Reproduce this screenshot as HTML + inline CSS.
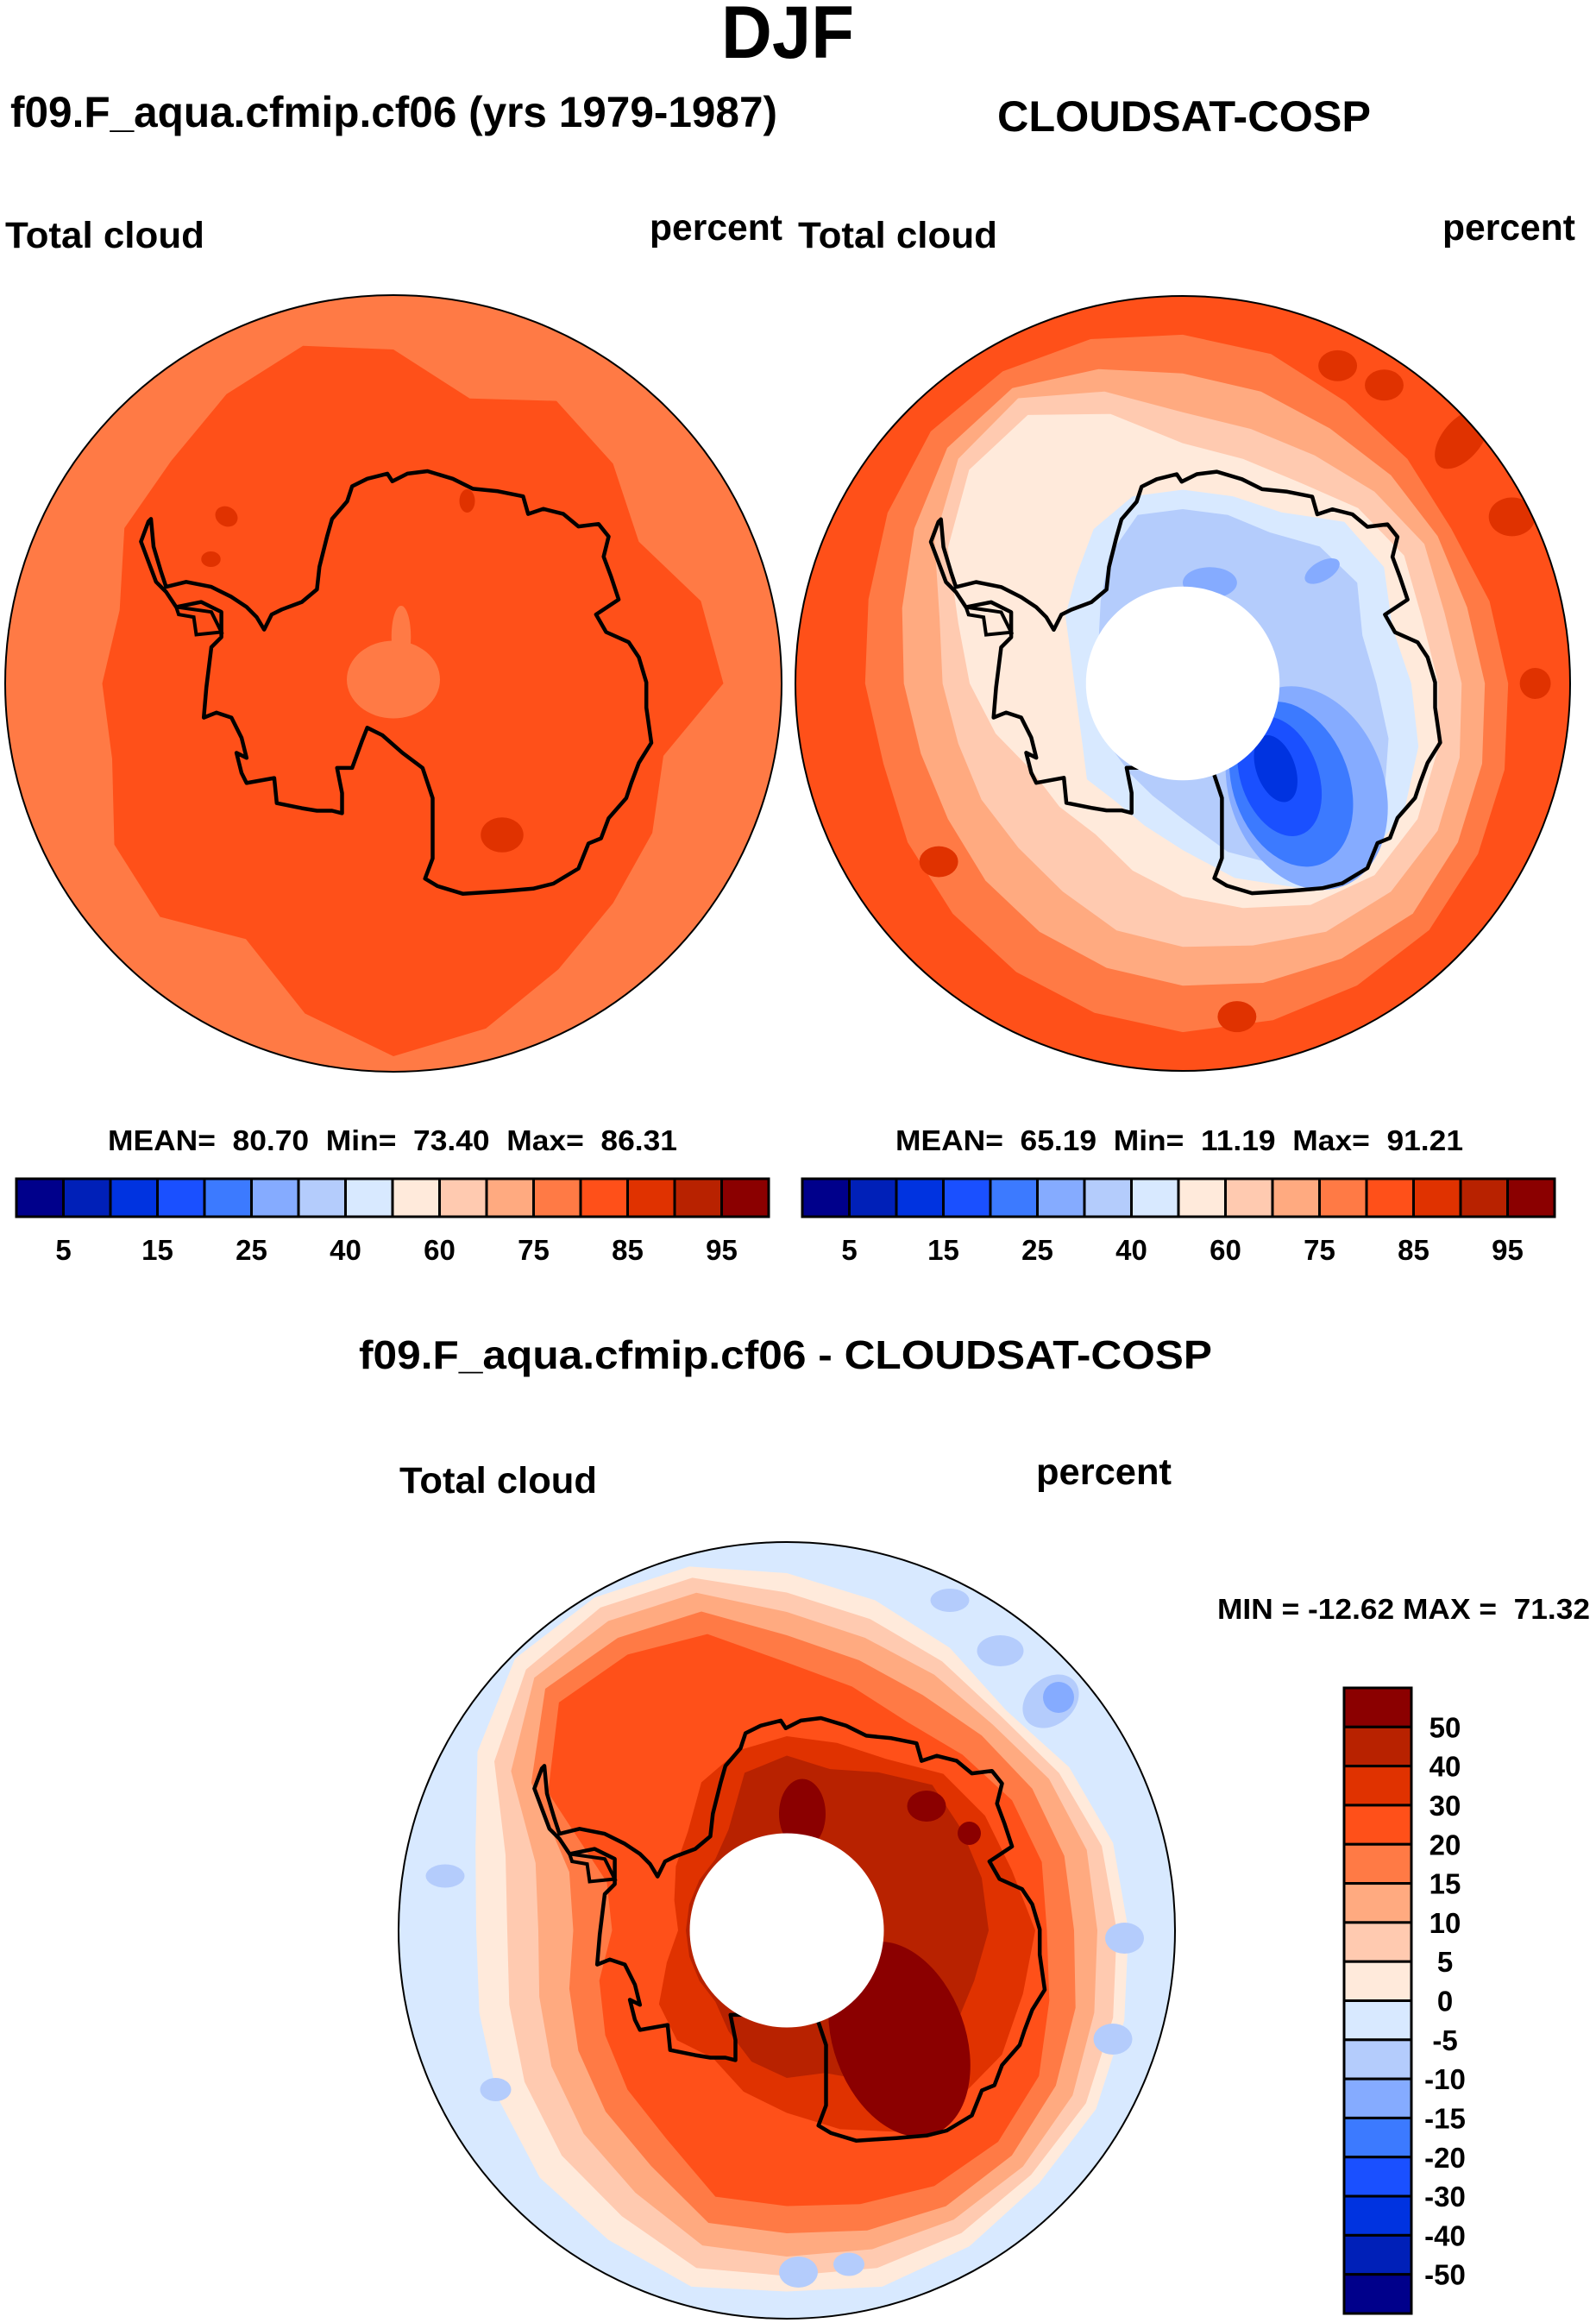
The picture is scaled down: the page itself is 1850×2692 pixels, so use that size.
<!DOCTYPE html>
<html><head><meta charset="utf-8"><title>DJF Total cloud</title>
<style>
html,body{margin:0;padding:0;background:#fff;}
svg{display:block;}
text{font-family:"Liberation Sans",Arial,sans-serif;font-weight:bold;fill:#000;}
.pre{white-space:pre;}
</style></head>
<body>
<svg id="fig" xmlns="http://www.w3.org/2000/svg" width="1850" height="2692" viewBox="0 0 1850 2692">
<text x="913" y="67" font-size="86" text-anchor="middle" textLength="154" lengthAdjust="spacingAndGlyphs">DJF</text>
<text x="12" y="147" font-size="50" textLength="889" lengthAdjust="spacingAndGlyphs">f09.F_aqua.cfmip.cf06 (yrs 1979-1987)</text>
<text x="1156" y="152" font-size="50" textLength="433" lengthAdjust="spacingAndGlyphs">CLOUDSAT-COSP</text>
<text x="6" y="287" font-size="43" textLength="231" lengthAdjust="spacingAndGlyphs">Total cloud</text>
<text x="753" y="278" font-size="43" textLength="154" lengthAdjust="spacingAndGlyphs">percent</text>
<text x="925" y="287" font-size="43" textLength="231" lengthAdjust="spacingAndGlyphs">Total cloud</text>
<text x="1672" y="278" font-size="43" textLength="154" lengthAdjust="spacingAndGlyphs">percent</text>
<text class="pre" x="125" y="1333" font-size="33" textLength="660" lengthAdjust="spacingAndGlyphs">MEAN=  80.70  Min=  73.40  Max=  86.31</text>
<text class="pre" x="1038" y="1333" font-size="33" textLength="658" lengthAdjust="spacingAndGlyphs">MEAN=  65.19  Min=  11.19  Max=  91.21</text>
<text x="416" y="1586" font-size="46" textLength="989" lengthAdjust="spacingAndGlyphs">f09.F_aqua.cfmip.cf06 - CLOUDSAT-COSP</text>
<text x="463" y="1730" font-size="43" textLength="229" lengthAdjust="spacingAndGlyphs">Total cloud</text>
<text x="1201" y="1720" font-size="43" textLength="157" lengthAdjust="spacingAndGlyphs">percent</text>
<text class="pre" x="1411" y="1876" font-size="33" textLength="432" lengthAdjust="spacingAndGlyphs">MIN = -12.62 MAX =  71.32</text>
<g id="maps"></g>
<g id="bars"></g>
</svg>
<script>
// ---- data ----
const palette = ["#00008b","#0020b8","#0033e0","#1a50ff","#3c7aff","#85abff","#b4ccfc","#d8e9ff","#ffeadb","#ffcab0","#ffaa80","#ff7a45","#ff5019","#e03200","#b82200","#8b0000"];
const absTickLabels = ["5","15","25","40","60","75","85","95"];
const diffTickLabels = ["50","40","30","20","15","10","5","0","-5","-10","-15","-20","-30","-40","-50"];
// radial contour extents (fraction of map radius) at 15° steps, clockwise from east
const modelLvl13 = [0.85,0.72,0.77,0.8,0.85,0.92,0.96,0.88,0.76,0.85,0.83,0.75,0.75,0.73,0.8,0.81,0.86,0.9,0.86,0.76,0.84,0.8,0.73,0.82];
const obsLvl12 = [0.84,0.86,0.88,0.9,0.9,0.9,0.9,0.88,0.86,0.84,0.82,0.8,0.82,0.84,0.88,0.92,0.93,0.92,0.9,0.88,0.84,0.82,0.8,0.82];
const obsLvl11 = [0.78,0.8,0.82,0.84,0.82,0.8,0.78,0.76,0.74,0.72,0.7,0.7,0.72,0.75,0.8,0.86,0.88,0.84,0.8,0.78,0.76,0.76,0.76,0.76];
const obsLvl10 = [0.72,0.74,0.76,0.76,0.74,0.7,0.68,0.66,0.62,0.6,0.6,0.6,0.62,0.65,0.74,0.82,0.85,0.78,0.7,0.68,0.68,0.7,0.72,0.7];
const obsLvl9 = [0.66,0.68,0.7,0.7,0.66,0.6,0.55,0.5,0.45,0.45,0.45,0.5,0.55,0.6,0.7,0.78,0.8,0.72,0.62,0.6,0.6,0.64,0.66,0.64];
const obsLvl8 = [0.59,0.63,0.66,0.66,0.61,0.52,0.43,0.38,0.35,0.35,0.3,0.28,0.28,0.3,0.35,0.39,0.46,0.5,0.5,0.5,0.51,0.59,0.6,0.56];
const obsLvl7 = [0.5,0.55,0.6,0.6,0.55,0.45,0.35,0.3,0.27,0.25,0.25,0.25,0.25,0.25,0.25,0.3,0.38,0.45,0.45,0.45,0.45,0.5,0.52,0.48];
const diffLvl9 = [0.88,0.9,0.92,0.92,0.94,0.95,0.93,0.95,0.92,0.9,0.86,0.82,0.8,0.83,0.92,0.99,0.99,0.97,0.92,0.88,0.84,0.8,0.84,0.87];
const diffLvl10 = [0.85,0.87,0.89,0.89,0.9,0.9,0.89,0.9,0.85,0.82,0.78,0.74,0.72,0.75,0.87,0.95,0.96,0.94,0.87,0.83,0.8,0.78,0.81,0.84];
const diffLvl11 = [0.8,0.82,0.85,0.86,0.86,0.85,0.84,0.84,0.78,0.74,0.7,0.66,0.64,0.67,0.82,0.92,0.92,0.9,0.82,0.78,0.76,0.75,0.78,0.8];
const diffLvl12 = [0.74,0.77,0.8,0.82,0.82,0.8,0.78,0.78,0.7,0.66,0.62,0.58,0.55,0.58,0.76,0.88,0.87,0.85,0.76,0.72,0.7,0.71,0.73,0.74];
const diffLvl13 = [0.67,0.7,0.75,0.77,0.76,0.73,0.71,0.71,0.62,0.58,0.54,0.5,0.45,0.48,0.71,0.83,0.82,0.79,0.69,0.65,0.62,0.64,0.67,0.68];
const diffLvl14 = [0.64,0.63,0.64,0.62,0.6,0.53,0.47,0.43,0.38,0.4,0.38,0.32,0.28,0.3,0.33,0.36,0.44,0.48,0.5,0.5,0.51,0.57,0.59,0.6];
const diffLvl15 = [0.52,0.5,0.5,0.5,0.45,0.38,0.38,0.35,0.3,0.26,0.26,0.26,0.26,0.26,0.26,0.26,0.3,0.42,0.45,0.43,0.47,0.53,0.52,0.52];
// local extrema cells: [level index, x, y, rx, ry, rotation] in map-relative units
const modelCells = [[11,0,-0.01,0.12,0.1,0],[11,0.02,-0.12,0.025,0.08,0],[13,0.28,0.39,0.055,0.045,0],[13,0.19,-0.47,0.02,0.03,0],[13,-0.43,-0.43,0.03,0.025,30],[13,-0.47,-0.32,0.025,0.02,0]];
const obsCells = [[13,0.4,-0.82,0.05,0.04,0],[13,0.72,-0.63,0.09,0.05,-50],[13,0.85,-0.43,0.06,0.05,0],[13,0.91,0,0.04,0.04,0],[13,-0.63,0.46,0.05,0.04,0],[13,0.14,0.86,0.05,0.04,0],[13,0.52,-0.77,0.05,0.04,0],
  [5,0.32,0.27,0.2,0.27,-20],[4,0.28,0.26,0.15,0.22,-20],[3,0.25,0.24,0.1,0.16,-20],[2,0.24,0.22,0.05,0.09,-20],[5,0.07,-0.26,0.07,0.04,0],[5,0.36,-0.29,0.05,0.025,-30]];
const diffCells = [[6,0.68,-0.59,0.08,0.06,-40],[5,0.7,-0.6,0.04,0.04,0],[6,0.42,-0.85,0.05,0.03,0],[6,0.87,0.02,0.05,0.04,0],[6,0.84,0.28,0.05,0.04,0],[6,-0.88,-0.14,0.05,0.03,0],[6,0.03,0.88,0.05,0.04,0],[6,0.55,-0.72,0.06,0.04,0],[6,-0.75,0.41,0.04,0.03,0],[6,0.16,0.86,0.04,0.03,0],
  [15,0.29,0.28,0.17,0.26,-20],[15,0.04,-0.3,0.06,0.09,0],[15,0.36,-0.32,0.05,0.04,0],[15,0.47,-0.25,0.03,0.03,0]];
// coastline trace (reference grid units, centre 782,792 radius 772)
const coast = [[300,465],[305,520],[320,570],[330,600],[370,590],[420,600],[460,620],[490,640],[510,660],[525,685],[540,655],[560,645],[600,630],[630,605],[635,560],[650,500],[660,465],[690,430],[700,400],[730,385],[770,375],[780,390],[810,375],[850,370],[900,385],[940,405],[990,410],[1040,420],[1050,455],[1080,445],[1120,455],[1150,480],[1190,475],[1210,500],[1200,540],[1215,580],[1230,625],[1185,655],[1205,690],[1250,710],[1270,740],[1285,790],[1285,840],[1295,910],[1270,950],[1255,990],[1245,1020],[1210,1060],[1195,1100],[1170,1110],[1150,1160],[1100,1190],[1060,1200],[1000,1205],[920,1210],[870,1195],[845,1180],[860,1140],[860,1060],[860,1020],[840,960],[800,930],[760,895],[730,880],[720,905],[700,960],[670,960],[680,1010],[680,1050],[660,1045],[630,1045],[600,1040],[550,1030],[545,980],[490,990],[480,970],[470,930],[490,940],[480,900],[460,860],[430,850],[405,860],[410,800],[420,720],[440,700],[440,650],[400,630],[350,640],[330,610],[310,590],[295,550],[280,510],[295,470]];
const shelf = [[350,640],[420,650],[440,690],[390,695],[385,660],[355,655]];

// ---- drawing ----
const NS = "http://www.w3.org/2000/svg";
function mk(tag, attrs, parent){const e=document.createElementNS(NS,tag);for(const k in attrs)e.setAttribute(k,attrs[k]);parent.appendChild(e);return e;}
function radialPath(cx,cy,R,radii){
  const n=radii.length;let d="";
  for(let i=0;i<n;i++){const a=i*2*Math.PI/n;const x=cx+R*radii[i]*Math.cos(a),y=cy+R*radii[i]*Math.sin(a);d+=(i?"L":"M")+x.toFixed(1)+","+y.toFixed(1);}
  return d+"Z";
}
function coastPath(cx,cy,R,pts){
  return pts.map((p,i)=>(i?"L":"M")+(cx+(p[0]-782)/772*R).toFixed(1)+","+(cy+(p[1]-792)/772*R).toFixed(1)).join("")+"Z";
}
const maps = document.getElementById("maps");
function drawMap(id,cx,cy,R,bg,layers,cells,hole){
  const g=mk("g",{},maps);
  
  
  const cp=mk("clipPath",{id:id+"-clip"},g);
  mk("circle",{cx:cx,cy:cy,r:R},cp);
  const inner=mk("g",{"clip-path":"url(#"+id+"-clip)"},g);
  const base=mk("circle",{cx:cx,cy:cy,r:R,fill:palette[bg]},inner);
  
  
  layers.forEach(L=>{
    const p=mk("path",{d:radialPath(cx,cy,R,L[1]),fill:palette[L[0]]},inner);
    
    
  });
  cells.forEach(c=>{
    const e=mk("ellipse",{cx:cx+c[1]*R,cy:cy+c[2]*R,rx:c[3]*R,ry:c[4]*R,fill:palette[c[0]],transform:"rotate("+c[5]+" "+(cx+c[1]*R)+" "+(cy+c[2]*R)+")"},inner);
    
    
  });
  const cst=mk("path",{d:coastPath(cx,cy,R,coast),fill:"none",stroke:"#000","stroke-width":4.5,"stroke-linejoin":"round"},inner);
  
  
  const sh=mk("path",{d:coastPath(cx,cy,R,shelf),fill:"none",stroke:"#000","stroke-width":4},inner);
  
  
  if(hole){
    const h=mk("circle",{cx:cx,cy:cy,r:hole*R,fill:"#fff"},inner);
    
    
  }
  const b=mk("circle",{cx:cx,cy:cy,r:R,fill:"none",stroke:"#000","stroke-width":2},g);
  
  
}
drawMap("model",456,792,450,11,[[12,modelLvl13]],modelCells,0);
drawMap("obs",1371,792,449,12,[[11,obsLvl12],[10,obsLvl11],[9,obsLvl10],[8,obsLvl9],[7,obsLvl8],[6,obsLvl7]],obsCells,0.25);
drawMap("diff",912,2237,450,7,[[8,diffLvl9],[9,diffLvl10],[10,diffLvl11],[11,diffLvl12],[12,diffLvl13],[13,diffLvl14],[14,diffLvl15]],diffCells,0.25);

const bars=document.getElementById("bars");
function hBar(id,x0,x1,y0,y1,labels){
  const w=(x1-x0)/palette.length;
  palette.forEach((c,i)=>{
    const r=mk("rect",{x:x0+i*w,y:y0,width:w,height:y1-y0,fill:c,stroke:"#000","stroke-width":3},bars);
    
    
  });
  labels.forEach((t,j)=>{
    const tx=mk("text",{x:x0+(2*j+1)*w,y:y1+50,"font-size":33,"text-anchor":"middle"},bars);
    tx.textContent=t;
    
    
  });
}
hBar("model",19,891,1366,1410,absTickLabels);
hBar("obs",930,1802,1366,1410,absTickLabels);
(function(){
  const x0=1558,x1=1636,y0=1956,y1=2681,h=(y1-y0)/palette.length;
  for(let i=0;i<palette.length;i++){
    const r=mk("rect",{x:x0,y:y0+i*h,width:x1-x0,height:h,fill:palette[palette.length-1-i],stroke:"#000","stroke-width":3},bars);
    
    
  }
  diffTickLabels.forEach((t,j)=>{
    const tx=mk("text",{x:1675,y:y0+(j+1)*h+12,"font-size":33,"text-anchor":"middle"},bars);
    tx.textContent=t;
    
    
  });
})();
</script>
</body></html>
